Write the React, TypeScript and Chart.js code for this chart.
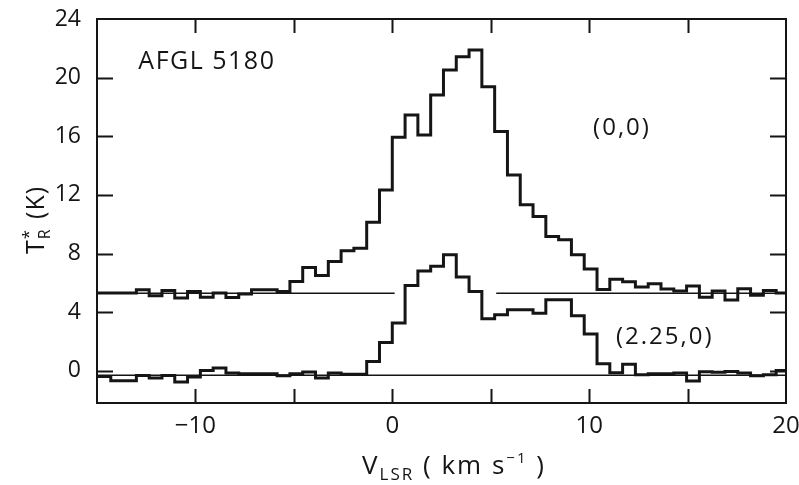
import React, { useEffect, useRef } from "react";
import { Chart, registerables } from "chart.js";

Chart.register(...registerables);

// Channel left edges (km/s)
const channelStart = [
  -14.95, -14.3, -13.65, -13.0, -12.35, -11.7, -11.05, -10.4, -9.75, -9.1,
  -8.45, -7.8, -7.15, -6.5, -5.85, -5.2, -4.55, -3.9, -3.25, -2.6,
  -1.95, -1.3, -0.65, 0.0, 0.65, 1.3, 1.95, 2.6, 3.25, 3.9,
  4.55, 5.2, 5.85, 6.5, 7.15, 7.8, 8.45, 9.1, 9.75, 10.4,
  11.05, 11.7, 12.35, 13.0, 13.65, 14.3, 14.95, 15.6, 16.25, 16.9,
  17.55, 18.2, 18.85, 19.5,
];
const CHANNEL_WIDTH = 0.65;

// (0,0) spectrum, offset
const spectrum00 = [
  5.3, 5.3, 5.3, 5.52, 5.11, 5.47, 4.96, 5.41, 5.02, 5.3,
  5.0, 5.23, 5.52, 5.52, 5.41, 6.09, 7.05, 6.5, 7.45, 8.18,
  8.36, 10.14, 12.34, 15.93, 17.45, 16.09, 18.82, 20.52, 21.43, 21.89,
  19.38, 16.32, 13.36, 11.32, 10.52, 9.16, 8.93, 7.91, 6.95, 5.55,
  6.25, 6.07, 5.71, 5.93, 5.57, 5.44, 5.78, 5.02, 5.44, 4.82,
  5.6, 5.16, 5.47, 5.3,
];

// (2.25,0) spectrum
const spectrum225 = [
  -0.39, -0.68, -0.68, -0.32, -0.5, -0.32, -0.77, -0.43, 0.02, 0.18,
  -0.16, -0.2, -0.2, -0.2, -0.34, -0.2, -0.09, -0.5, -0.16, -0.23,
  -0.23, 0.63, 1.93, 3.25, 5.81, 6.8, 7.13, 7.91, 6.39, 5.41,
  3.55, 3.82, 4.16, 4.16, 3.93, 4.84, 4.84, 3.75, 2.5, 0.48,
  -0.14, 0.45, -0.27, -0.2, -0.2, -0.16, -0.7, -0.07, -0.11, -0.05,
  -0.16, -0.34, -0.27, 0.02,
];

// Baselines
const baseline00 = 5.28;
const baseline00Gap = [0.12, 5.28];
const baseline225 = -0.31;

const xRange = [-15, 20];
const yRange = [-2.2, 24];
const xTickMarks = [-10, -5, 0, 5, 10, 15];
const xTickLabels = [-10, 0, 10, 20];
const yTickLabels = [0, 4, 8, 12, 16, 20, 24];

const FONT = "'Open Sans', 'DejaVu Sans', sans-serif";
const INK = "#151515";

function stepPoints(values: number[]) {
  const pts = channelStart.map((v, i) => ({ x: v, y: values[i] }));
  const last = channelStart.length - 1;
  pts.push({ x: channelStart[last] + CHANNEL_WIDTH, y: values[last] });
  return pts;
}

const decor = {
  id: "decor",
  afterDraw(chart: any) {
    const { ctx, chartArea: a, scales } = chart;
    const x = scales.x;
    const y = scales.y;
    ctx.save();
    ctx.strokeStyle = INK;
    ctx.lineWidth = 2;
    ctx.strokeRect(a.left, a.top, a.right - a.left, a.bottom - a.top);
    ctx.beginPath();
    xTickMarks.forEach((v) => {
      const px = Math.round(x.getPixelForValue(v)) + 0.5;
      ctx.moveTo(px, a.bottom);
      ctx.lineTo(px, a.bottom - 14);
      ctx.moveTo(px, a.top);
      ctx.lineTo(px, a.top + 14);
    });
    yTickLabels
      .filter((v) => v < yRange[1])
      .forEach((v) => {
        const py = Math.round(y.getPixelForValue(v)) + 0.5;
        ctx.moveTo(a.left, py);
        ctx.lineTo(a.left + 16, py);
        ctx.moveTo(a.right, py);
        ctx.lineTo(a.right - 16, py);
      });
    ctx.stroke();

    ctx.fillStyle = INK;
    ctx.textBaseline = "middle";
    ctx.textAlign = "left";
    (ctx as any).letterSpacing = "1.5px";
    ctx.font = `25px ${FONT}`;
    ctx.fillText("AFGL 5180", x.getPixelForValue(-12.9), y.getPixelForValue(21.07));
    (ctx as any).letterSpacing = "2px";
    ctx.font = `24px ${FONT}`;
    ctx.fillText("(0,0)", x.getPixelForValue(10.2), y.getPixelForValue(16.57));
    ctx.fillText("(2.25,0)", x.getPixelForValue(11.36), y.getPixelForValue(2.32));

    // x-axis title: V_LSR (km s^-1)
    const parts: [string, number, number][] = [
      ["V", 26, 0],
      ["LSR", 17, 6],
      [" ( km s", 26, 0],
      ["\u22121", 15, -11],
      [" )", 26, 0],
    ];
    ctx.textBaseline = "alphabetic";
    let total = 0;
    parts.forEach(([t, s]) => {
      ctx.font = `${s}px ${FONT}`;
      total += ctx.measureText(t).width;
    });
    let cx = 454 - total / 2;
    const by = 474;
    parts.forEach(([t, s, dy]) => {
      ctx.font = `${s}px ${FONT}`;
      ctx.fillText(t, cx, by + dy);
      cx += ctx.measureText(t).width;
    });

    // y-axis title: T*_R (K)
    (ctx as any).letterSpacing = "1px";
    ctx.save();
    ctx.translate(44, 220);
    ctx.rotate(-Math.PI / 2);
    ctx.font = `25px ${FONT}`;
    const wT = ctx.measureText("T").width;
    ctx.font = `16px ${FONT}`;
    const wR = ctx.measureText("R").width;
    ctx.font = `25px ${FONT}`;
    const wK = ctx.measureText(" (K)").width;
    let tx = -(wT + wR + 2 + wK) / 2;
    ctx.fillText("T", tx, 0);
    tx += wT;
    ctx.font = `17px ${FONT}`;
    ctx.fillText("*", tx, -10);
    ctx.font = `16px ${FONT}`;
    ctx.fillText("R", tx, 6);
    tx += wR + 2;
    ctx.font = `25px ${FONT}`;
    ctx.fillText(" (K)", tx, 0);
    ctx.restore();
    (ctx as any).letterSpacing = "0px";

    ctx.restore();
  },
};

export default function App() {
  const ref = useRef<HTMLCanvasElement>(null);
  useEffect(() => {
    if (!ref.current) return;
    const gapData = [
      { x: xRange[0], y: baseline00 },
      { x: baseline00Gap[0], y: baseline00 },
      { x: (baseline00Gap[0] + baseline00Gap[1]) / 2, y: null },
      { x: baseline00Gap[1], y: baseline00 },
      { x: xRange[1], y: baseline00 },
    ];
    const chart = new Chart(ref.current, {
      type: "line",
      data: {
        datasets: [
          {
            data: stepPoints(spectrum00),
            stepped: true,
            borderColor: INK,
            borderWidth: 3,
            pointRadius: 0,
            fill: false,
          },
          {
            data: stepPoints(spectrum225),
            stepped: true,
            borderColor: INK,
            borderWidth: 3,
            pointRadius: 0,
            fill: false,
          },
          {
            data: gapData as any,
            borderColor: INK,
            borderWidth: 1.5,
            pointRadius: 0,
            spanGaps: false,
            fill: false,
          },
          {
            data: [
              { x: xRange[0], y: baseline225 },
              { x: xRange[1], y: baseline225 },
            ],
            borderColor: INK,
            borderWidth: 1.5,
            pointRadius: 0,
            fill: false,
          },
        ],
      },
      options: {
        responsive: false,
        animation: false,
        events: [],
        layout: { padding: { top: 19, right: 13, left: 0, bottom: 0 } },
        plugins: { legend: { display: false }, tooltip: { enabled: false } },
        scales: {
          x: {
            type: "linear",
            min: xRange[0],
            max: xRange[1],
            grid: { display: false, drawTicks: false },
            border: { display: false },
            afterFit: (s: any) => {
              s.height = 82;
              s.paddingLeft = 0;
              s.paddingRight = 0;
            },
            afterBuildTicks: (s: any) => {
              s.ticks = xTickLabels.map((v) => ({ value: v }));
            },
            ticks: {
              padding: 9,
              color: INK,
              font: { family: FONT, size: 24 },
              maxRotation: 0,
              callback: (v: any) => (v < 0 ? "\u2212" + Math.abs(v) : String(v)),
            },
          },
          y: {
            type: "linear",
            min: yRange[0],
            max: yRange[1],
            grid: { display: false, drawTicks: false },
            border: { display: false },
            afterFit: (s: any) => {
              s.width = 97;
              s.paddingTop = 0;
              s.paddingBottom = 0;
            },
            afterBuildTicks: (s: any) => {
              s.ticks = yTickLabels.map((v) => ({ value: v }));
            },
            ticks: {
              padding: 16,
              color: INK,
              font: { family: FONT, size: 23 },
              callback: (v: any) => String(v),
            },
          },
        },
      },
      plugins: [decor],
    } as any);
    return () => chart.destroy();
  }, []);
  return (
    <div style={{ position: "fixed", left: 0, top: 0, width: 799, height: 485, background: "#fff" }}>
      <canvas ref={ref} width={799} height={485} style={{ display: "block", width: 799, height: 485 }} />
    </div>
  );
}
